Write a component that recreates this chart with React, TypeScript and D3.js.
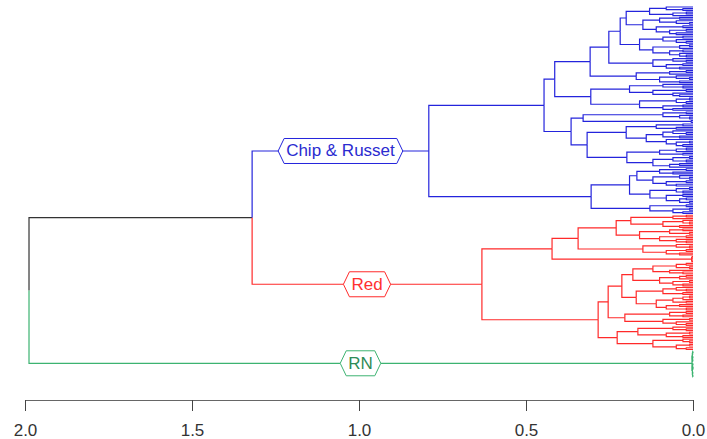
import React, { useEffect, useRef } from 'react';
import * as d3 from 'd3';

// Newick-like strings: "x" is a leaf, "(a,b)h" joins a and b at height h
// Chip & Russet sub-clusters
const crP1a = "(((x,(x,x)0.03)0.08,((x,x)0.02,x)0.06)0.13,(((x,x)0.04,(x,(x,x)0.01)0.05)0.10,((x,x)0.03,((x,x)0.02,(x,x)0.05)0.07)0.11)0.15)0.20";
const crP1b = "(((x,x)0.03,(x,(x,x)0.02)0.05)0.09,(((x,x)0.01,x)0.04,((x,x)0.03,(x,(x,x)0.02)0.04)0.07)0.12)0.16";
const crP2 = "((x,(x,x)0.02)0.06,((x,x)0.03,(x,x)0.04)0.08)0.12";
const crQ = "(((x,x)0.02,x)0.07,((x,(x,x)0.01)0.05,(x,x)0.04)0.10)0.17";
const crC1 = "((x,(x,x)0.03)0.09,((x,x)0.02,(x,(x,x)0.04)0.06)0.12)0.19";
const crC2 = "(((x,x)0.01,(x,x)0.02)0.05,((x,x)0.03,(x,x)0.06)0.09)0.16";
const crR = "(((x,x)0.02,(x,(x,x)0.01)0.04)0.09,(x,x)0.005)0.329";
const crS1 = "(((x,x)0.03,(x,x)0.05)0.11,(((x,(x,x)0.02)0.06,(x,x)0.04)0.09,(x,((x,x)0.01,(x,x)0.03)0.05)0.08)0.14)0.20";
const crS2 = "((((x,x)0.02,x)0.05,(x,x)0.03)0.10,(((x,x)0.01,(x,x)0.02)0.06,((x,x)0.04,x)0.07)0.12)0.198";
const crT1 = "(((x,x)0.02,(x,x)0.06)0.10,((x,(x,x)0.01)0.04,((x,x)0.02,(x,x)0.05)0.08)0.12)0.168";
const crT2 = "(((x,x)0.01,(x,x)0.03)0.05,((x,x)0.03,((x,x)0.02,(x,x)0.01)0.04)0.08)0.129";
const crU = "((x,x)0.02,((x,x)0.01,(x,x)0.03)0.06)0.129";
const chipRusset = `((((((${crP1a},${crP1b})0.218,${crP2})0.252,${crQ})0.308,(${crC1},${crC2})0.306)0.414,(${crR},(${crS1},${crS2})0.317)0.365)0.446,((${crT1},${crT2})0.19,${crU})0.305)0.791`;

// Red sub-clusters
const rdV1 = "(((x,x)0.02,x)0.06,((x,(x,x)0.01)0.03,(x,x)0.04)0.09)0.186";
const rdV2 = "(((x,x)0.03,(x,x)0.01)0.07,((x,x)0.02,(x,(x,x)0.02)0.05)0.10)0.16";
const rdW = "((x,(x,x)0.01)0.05,((x,x)0.02,(x,x)0.04)0.08)0.15";
const rdA2 = "((x,x)0.002,(x,x)0.003)0.004";
const rdX1 = "((((x,x)0.02,(x,x)0.01)0.05,(x,(x,x)0.03)0.07)0.12,(((x,x)0.02,x)0.04,((x,x)0.01,(x,x)0.03)0.06)0.10)0.18";
const rdX2 = "(((x,(x,x)0.02)0.05,(x,x)0.03)0.09,((((x,x)0.01,x)0.03,(x,x)0.02)0.06,((x,x)0.04,(x,x)0.02)0.08)0.11)0.17";
const rdY = "(((x,x)0.02,(x,x)0.03)0.07,((x,x)0.01,(x,(x,x)0.02)0.05)0.09)0.204";
const rdZ1 = "((x,(x,x)0.02)0.06,((x,x)0.01,(x,x)0.03)0.08)0.165";
const rdZ2 = "((x,(x,x)0.01)0.03,((x,x)0.01,(x,x)0.02)0.05)0.12";
const red = `((((${rdV1},${rdV2})0.23,${rdW})0.344,${rdA2})0.422,(((${rdX1},${rdX2})0.213,${rdY})0.254,(${rdZ1},${rdZ2})0.227)0.284)0.632`;

// RN
const rn = "((((x,x)0.0004,x)0.001,((x,x)0.0005,(x,x)0.0008)0.0012)0.002,(((x,x)0.0006,((x,x)0.0003,x)0.0007)0.0011,((x,x)0.0007,(x,x)0.0004)0.0013)0.0018)0.003";

const groupNames = ['Chip & Russet', 'Red', 'RN'];
const groupTrees = [chipRusset, red, rn];
const topHeights = [1.988, 1.32]; // root, chip&russet + red
const axisTicks = [2.0, 1.5, 1.0, 0.5, 0.0];

const lineColors: Record<string, string> = { 'Chip & Russet': '#2424dc', 'Red': '#ff2a2a', 'RN': '#3cb371' };
const textColors: Record<string, string> = { 'Chip & Russet': '#2b2bd0', 'Red': '#ff3030', 'RN': '#2e8b57' };

type TNode = { height: number; children?: TNode[]; group?: string };

function parse(str: string): TNode {
    const s = str.replace(/\s+/g, '');
    let i = 0;
    function node(): TNode {
        if (s[i] === '(') {
            i++;
            const children = [node()];
            while (s[i] === ',') { i++; children.push(node()); }
            i++; // ')'
            const j = i;
            while (i < s.length && /[0-9.]/.test(s[i])) i++;
            return { height: +s.slice(j, i), children };
        }
        i++; // 'x'
        return { height: 0 };
    }
    return node();
}

const W = 707, H = 439;

const Dendrogram: React.FC = () => {
    const svgRef = useRef<SVGSVGElement>(null);

    useEffect(() => {
        if (!svgRef.current) return;
        const svg = d3.select(svgRef.current);
        svg.selectAll('*').remove();

        const groups = groupTrees.map((t, k) => ({ ...parse(t), group: groupNames[k] }));
        const rootData: TNode = {
            height: topHeights[0],
            children: [{ height: topHeights[1], children: [groups[0], groups[1]] }, groups[2]],
        };

        const root = d3.hierarchy<TNode>(rootData, d => d.children);
        const leaves = root.leaves();

        const xScale = d3.scaleLinear().domain([2, 0]).range([25, 693]);
        const yScale = d3.scaleLinear().domain([0, leaves.length - 1]).range([7, 377]);

        const py = new Map<any, number>();
        const col = new Map<any, string>();
        leaves.forEach((l, i) => py.set(l, yScale(i)));
        root.eachAfter(n => {
            if (n.children) {
                const c = n.children;
                py.set(n, (py.get(c[0])! + py.get(c[c.length - 1])!) / 2);
            }
        });
        root.eachBefore(n => {
            if (n.data.group) col.set(n, lineColors[n.data.group]);
            else col.set(n, n.parent ? col.get(n.parent)! : '#333');
        });

        const edges = root.descendants().filter(n => n.parent);
        svg.append('g')
            .selectAll('path')
            .data(edges)
            .join('path')
            .attr('d', n => {
                const p = n.parent!;
                return `M${xScale(p.data.height)},${py.get(p)}V${py.get(n)}H${xScale(n.data.height)}`;
            })
            .style('fill', 'none')
            .style('stroke', n => col.get(n)!)
            .style('stroke-width', 1.2);

        // group labels on the edge leading to each group
        const labelled = root.descendants().filter(n => n.data.group);
        const lg = svg.append('g').style('font-family', '"Liberation Sans", Arial, sans-serif').style('font-size', '17px');
        labelled.forEach(n => {
            const name = n.data.group!;
            const cx = (xScale(n.parent!.data.height) + xScale(n.data.height)) / 2;
            const cy = py.get(n)!;
            const g = lg.append('g');
            const poly = g.append('path');
            const txt = g.append('text')
                .attr('x', cx).attr('y', cy)
                .attr('text-anchor', 'middle')
                .attr('dominant-baseline', 'central')
                .style('fill', textColors[name])
                .text(name);
            const tw = (txt.node() as SVGTextElement).getComputedTextLength();
            const hw = tw / 2 + 8, hh = 12.5, pt = 6;
            poly.attr('d', `M${cx - hw},${cy}L${cx - hw + pt},${cy - hh}H${cx + hw - pt}L${cx + hw},${cy}L${cx + hw - pt},${cy + hh}H${cx - hw + pt}Z`)
                .style('fill', 'white')
                .style('stroke', lineColors[name])
                .style('stroke-width', 1);
        });

        const axis = d3.axisBottom(xScale)
            .tickValues(axisTicks)
            .tickFormat(d3.format('.1f'))
            .tickSize(11)
            .tickSizeOuter(0)
            .tickPadding(13);
        const ag = svg.append('g')
            .attr('transform', 'translate(0,400)')
            .call(axis);
        ag.select('.domain').style('stroke', '#666');
        ag.selectAll('.tick line').style('stroke', '#444');
        ag.selectAll('.tick text')
            .style('font-family', '"Liberation Sans", Arial, sans-serif')
            .style('font-size', '17px')
            .style('fill', '#333');
    }, []);

    return <svg ref={svgRef} width={W} height={H} style={{ position: 'absolute', left: 0, top: 0, background: 'white' }} />;
};

const App: React.FC = () => <Dendrogram />;

export default App;
